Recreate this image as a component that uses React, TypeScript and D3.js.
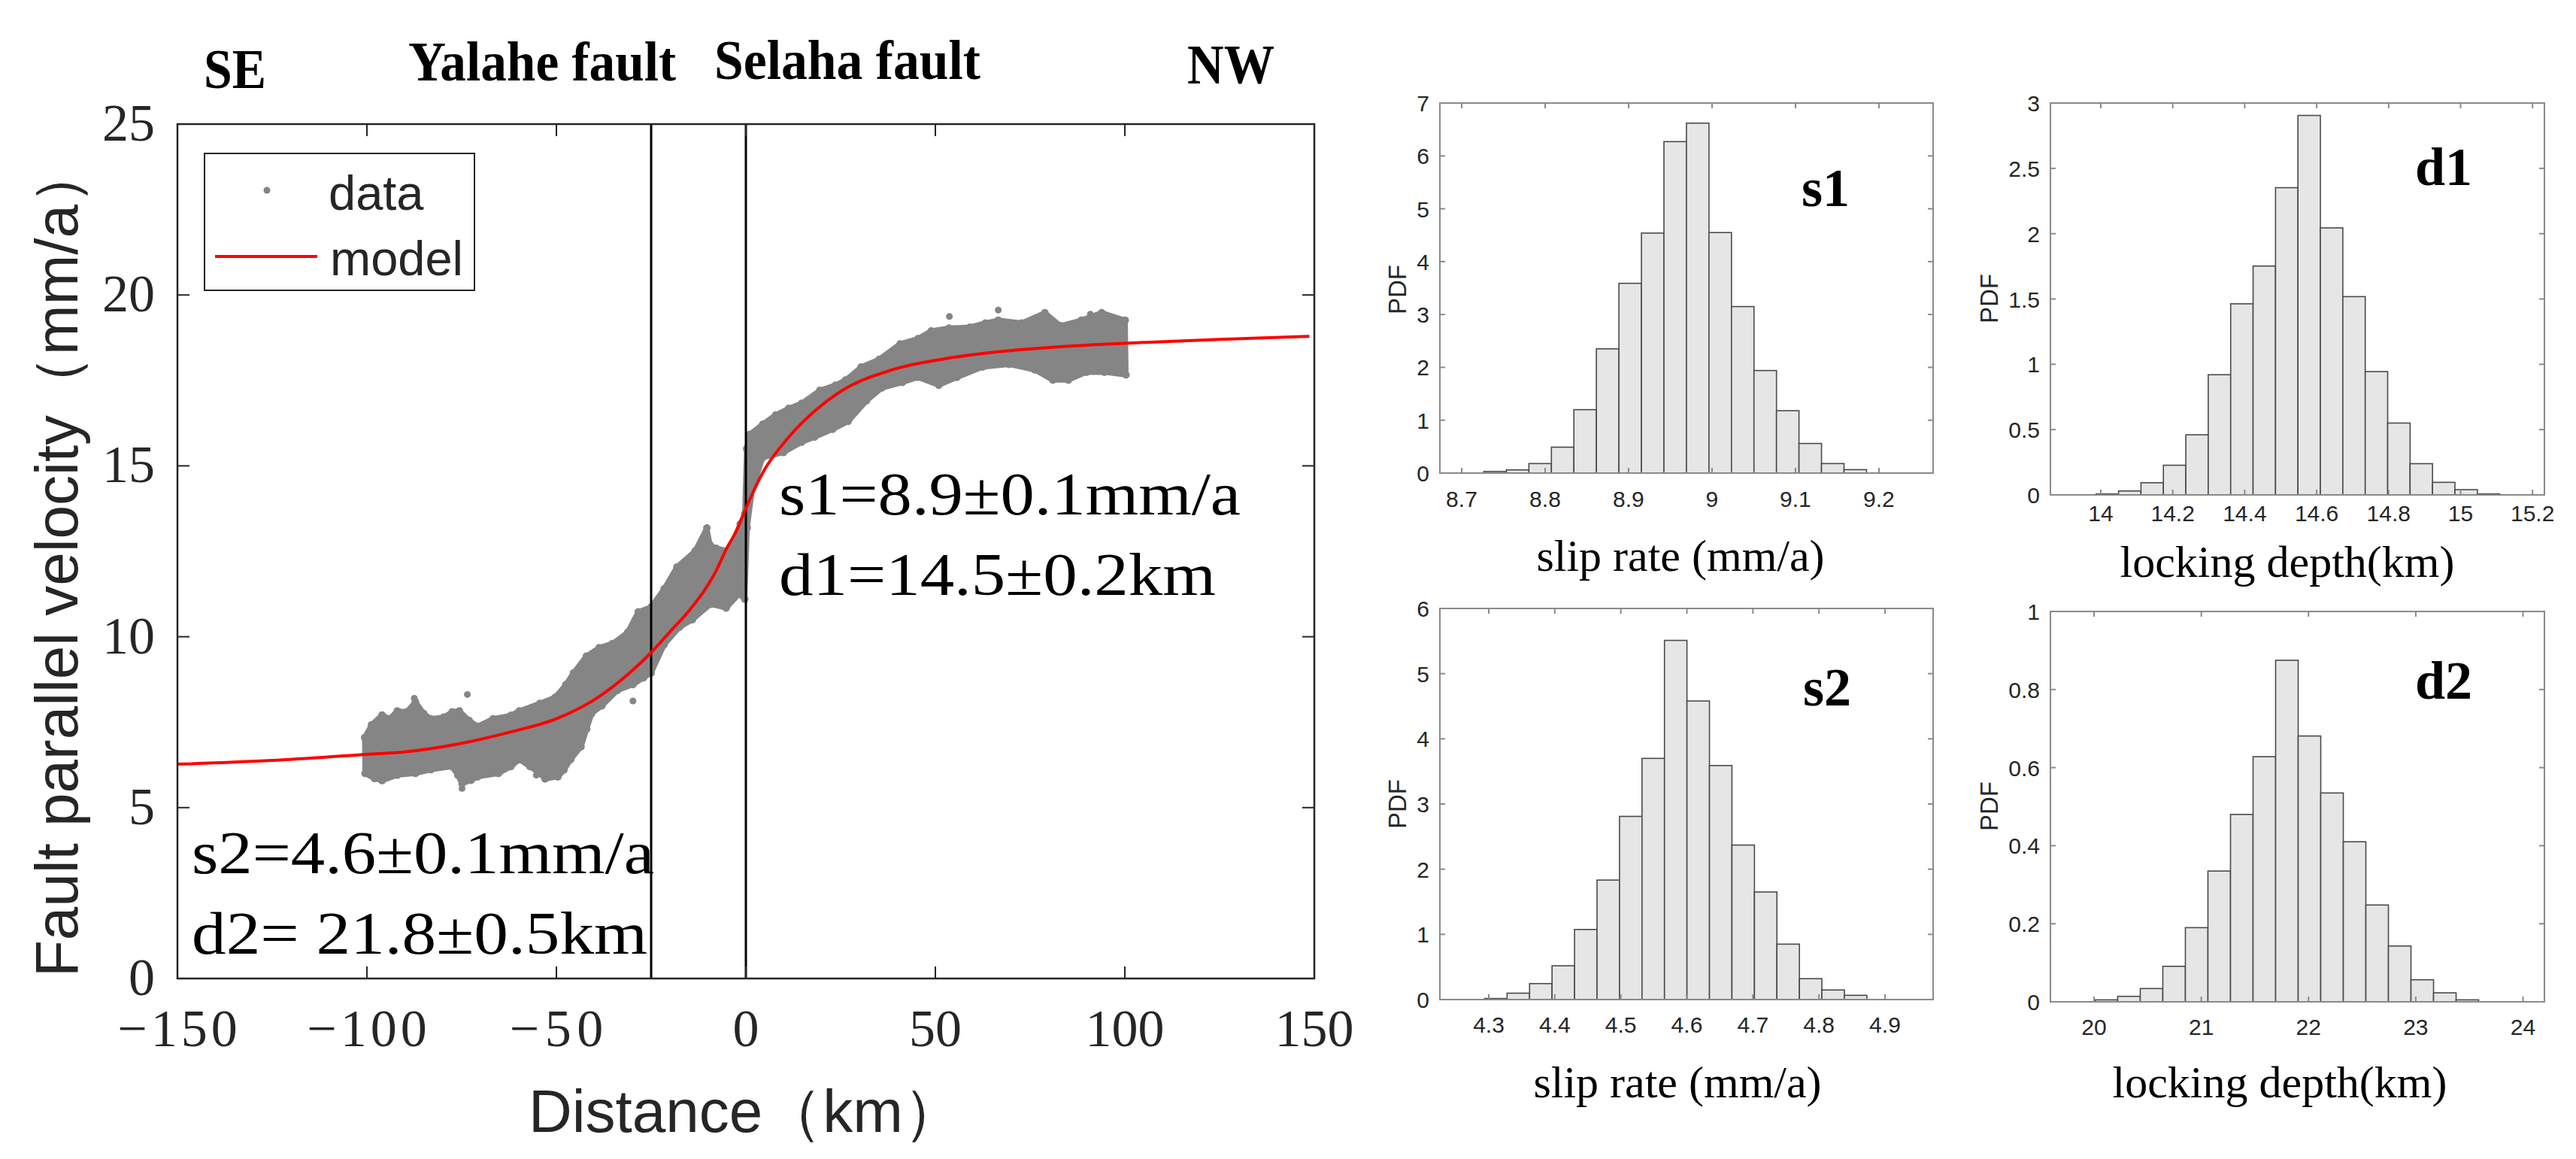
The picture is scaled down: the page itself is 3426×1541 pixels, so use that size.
import React from 'react';
import * as d3 from 'd3';

const W = 3426;
const H = 1541;

// ---------- main profile chart data ----------
const xTicksMain = [-150, -100, -50, 0, 50, 100, 150];
const yTicksMain = [0, 5, 10, 15, 20, 25];
const faultX = [-25, 0];

const modelX = [-150, -125, -100, -90, -76, -62.6, -50, -38.7, -28.4, -25, -20, -14.7, -7.9, -5, -2.4, 0, 4.4, 11.3, 18.1, 24.9, 38.6, 52.3, 65.9, 79.6, 93.3, 104.8, 125, 148.7];
const modelV = [6.27, 6.38, 6.56, 6.63, 6.86, 7.2, 7.6, 8.25, 9.17, 9.54, 10.15, 10.8, 11.92, 12.6, 13.12, 13.76, 14.79, 15.84, 16.6, 17.17, 17.81, 18.13, 18.33, 18.46, 18.55, 18.61, 18.7, 18.79];

const bandUpperX = [-100.6, -98.8, -96.0, -94, -92.0, -89.5, -87.2, -85, -83.1, -79.7, -77.5, -75.6, -73, -70.8, -66.7, -62, -59.8, -54.4, -50.3, -47.5, -45.5, -42.1, -38.7, -35.2, -31.2, -28.4, -25.0, -21.6, -18.2, -13.4, -10.3, -9.5, -7.9, -4.5, -1.5, -0.3, 0.2, 1.03, 4.45, 7.87, 11.28, 14.7, 19.5, 23.6, 26.3, 30.4, 35.2, 40.7, 45.4, 48.9, 53.6, 59.1, 63.2, 66.6, 72.8, 78.9, 83.0, 88.5, 93.9, 100.1];
const bandUpperV = [7.05, 7.42, 7.71, 7.6, 7.83, 7.8, 8.1, 7.75, 7.6, 7.65, 7.8, 7.83, 7.55, 7.38, 7.6, 7.7, 7.83, 8.05, 8.23, 8.6, 8.94, 9.43, 9.68, 9.8, 10.13, 10.73, 10.87, 11.4, 12.04, 12.51, 13.18, 12.7, 12.59, 12.51, 13.3, 13.6, 15.5, 15.92, 16.22, 16.49, 16.68, 16.83, 17.21, 17.36, 17.51, 17.89, 18.12, 18.57, 18.72, 18.95, 19.03, 19.06, 19.18, 19.26, 19.18, 19.48, 19.1, 19.26, 19.48, 19.26];

const bandLowerX = [-100.5, -98, -96.0, -92, -87.2, -83.1, -77.6, -76, -74.9, -72.5, -70.8, -65.3, -62, -59.8, -57, -54.4, -53.0, -49.6, -48, -46.2, -43.5, -42, -40.7, -38.0, -33.9, -29.8, -27, -25.0, -21.6, -17.5, -14.1, -9.3, -5.2, -1.8, -0.3, 0.35, 1.72, 4.45, 9.92, 14.7, 18.1, 22.9, 27.0, 31.8, 35.9, 41.3, 45.4, 50.9, 55.7, 62.5, 69.4, 76.2, 81.0, 85.1, 89.9, 94.6, 100.3];
const bandLowerV = [6.0, 5.85, 5.79, 5.95, 6.0, 6.11, 6.2, 5.95, 5.7, 5.8, 5.9, 6.0, 6.2, 6.41, 6.2, 6.0, 5.84, 5.9, 6.1, 6.41, 6.78, 7.3, 7.75, 7.98, 8.43, 8.6, 8.8, 8.94, 9.76, 10.28, 10.5, 10.95, 10.84, 11.25, 11.1, 13.19, 14.33, 15.24, 15.39, 15.69, 15.84, 16.07, 16.3, 16.9, 17.28, 17.44, 17.59, 17.36, 17.59, 17.89, 17.97, 17.81, 17.51, 17.51, 17.74, 17.74, 17.66];

const outlierX = [-73.5, -87.5, -29.8, -74.9, -50.6, -55.3, -43.8, 53.7, 66.6, 90.9];
const outlierV = [8.31, 8.2, 8.12, 5.56, 6.19, 5.95, 6.82, 19.37, 19.56, 19.44];

// ---------- histogram data ----------
const s1XTicks = [8.7, 8.8, 8.9, 9, 9.1, 9.2];
const s1YTicks = [0, 1, 2, 3, 4, 5, 6, 7];
const s1BinStart = 8.7266;
const s1BinWidth = 0.02697;
const s1Pdf = [0.03, 0.06, 0.18, 0.49, 1.2, 2.35, 3.59, 4.54, 6.27, 6.62, 4.55, 3.15, 1.94, 1.18, 0.56, 0.18, 0.065];

const d1XTicks = [14, 14.2, 14.4, 14.6, 14.8, 15, 15.2];
const d1YTicks = [0, 0.5, 1, 1.5, 2, 2.5, 3];
const d1BinStart = 13.987;
const d1BinWidth = 0.06233;
const d1Pdf = [0.007, 0.03, 0.093, 0.227, 0.46, 0.92, 1.463, 1.752, 2.352, 2.905, 2.044, 1.518, 0.944, 0.55, 0.239, 0.096, 0.04, 0.007];

const s2XTicks = [4.3, 4.4, 4.5, 4.6, 4.7, 4.8, 4.9];
const s2YTicks = [0, 1, 2, 3, 4, 5, 6];
const s2BinStart = 4.2937;
const s2BinWidth = 0.03405;
const s2Pdf = [0.016, 0.098, 0.245, 0.518, 1.075, 1.833, 2.81, 3.7, 5.51, 4.58, 3.59, 2.37, 1.65, 0.85, 0.32, 0.147, 0.065];

const d2XTicks = [20, 21, 22, 23, 24];
const d2YTicks = [0, 0.2, 0.4, 0.6, 0.8, 1];
const d2BinStart = 20.01;
const d2BinWidth = 0.2104;
const d2Pdf = [0.005, 0.014, 0.034, 0.091, 0.19, 0.335, 0.48, 0.628, 0.875, 0.681, 0.535, 0.41, 0.248, 0.143, 0.0565, 0.023, 0.005];

const SERIF = '"Liberation Serif", "Times New Roman", serif';
const SANS = '"Liberation Sans", Arial, sans-serif';
const AX = '#262626';
const DATA_GRAY = '#858585';

const fmt = (t: number) => String(+t.toFixed(2));

type HistProps = {
  left: number; right: number; top: number; bottom: number;
  xDomain: [number, number]; yDomain: [number, number];
  xTicks: number[]; yTicks: number[];
  binStart: number; binWidth: number; pdf: number[];
  xTickBase: number; pdfPos: [number, number];
  label: string; labelPos: [number, number];
  xLabel: string; xLabelPos: [number, number];
};

function Hist(p: HistProps) {
  const xs = d3.scaleLinear().domain(p.xDomain).range([p.left, p.right]);
  const ys = d3.scaleLinear().domain(p.yDomain).range([p.bottom, p.top]);
  const tl = 7;
  const boxColor = '#8a8a8a';
  return (
    <g>
      {p.pdf.map((v, i) => {
        const x0 = xs(p.binStart + i * p.binWidth);
        const x1 = xs(p.binStart + (i + 1) * p.binWidth);
        return (
          <rect key={i} x={x0} y={ys(v)} width={x1 - x0} height={ys(0) - ys(v)}
            fill="#e6e6e6" stroke="#4a4a4a" strokeWidth={1.6} />
        );
      })}
      <rect x={p.left} y={p.top} width={p.right - p.left} height={p.bottom - p.top}
        fill="none" stroke={boxColor} strokeWidth={2} />
      {p.xTicks.map((t) => (
        <g key={'x' + t}>
          <line x1={xs(t)} x2={xs(t)} y1={p.bottom} y2={p.bottom - tl} stroke={boxColor} strokeWidth={2} />
          <line x1={xs(t)} x2={xs(t)} y1={p.top} y2={p.top + tl} stroke={boxColor} strokeWidth={2} />
          <text x={xs(t)} y={p.xTickBase} textAnchor="middle" fontFamily={SANS} fontSize={30} fill={AX}>{fmt(t)}</text>
        </g>
      ))}
      {p.yTicks.map((t) => (
        <g key={'y' + t}>
          <line x1={p.left} x2={p.left + tl} y1={ys(t)} y2={ys(t)} stroke={boxColor} strokeWidth={2} />
          <line x1={p.right} x2={p.right - tl} y1={ys(t)} y2={ys(t)} stroke={boxColor} strokeWidth={2} />
          <text x={p.left - 14} y={ys(t) + 11} textAnchor="end" fontFamily={SANS} fontSize={30} fill={AX}>{fmt(t)}</text>
        </g>
      ))}
      <text transform={`translate(${p.pdfPos[0]},${p.pdfPos[1]}) rotate(-90)`} textAnchor="middle"
        fontFamily={SANS} fontSize={33} fill={AX}>PDF</text>
      <text x={p.labelPos[0]} y={p.labelPos[1]} fontFamily={SERIF} fontWeight="bold" fontSize={72} fill="#000">{p.label}</text>
      <text x={p.xLabelPos[0]} y={p.xLabelPos[1]} textAnchor="middle" fontFamily={SERIF} fontSize={60} fill="#000">{p.xLabel}</text>
    </g>
  );
}

function MainChart() {
  const left = 236, right = 1748, top = 165, bottom = 1301;
  const xs = d3.scaleLinear().domain([-150, 150]).range([left, right]);
  const ys = d3.scaleLinear().domain([0, 25]).range([bottom, top]);

  const upperPts = bandUpperX.map((x, i) => [x, bandUpperV[i]] as [number, number]);
  const lowerPts = bandLowerX.map((x, i) => [x, bandLowerV[i]] as [number, number]);
  const bandPts: [number, number][] = [...upperPts, ...lowerPts.slice().reverse()];
  const bandPath = d3.line<[number, number]>()
    .x((d) => xs(d[0])).y((d) => ys(d[1]))
    .curve(d3.curveLinearClosed)(bandPts) || '';

  const modelPath = d3.line<number>()
    .x((d) => xs(d)).y((_, i) => ys(modelV[i]))
    .curve(d3.curveMonotoneX)(modelX) || '';

  const tl = 16;
  const tickFont = 70;

  return (
    <g>
      {/* region labels */}
      <text x={271} y={117} fontFamily={SERIF} fontWeight="bold" fontSize={75} textLength={83} lengthAdjust="spacingAndGlyphs">SE</text>
      <text x={543} y={107} fontFamily={SERIF} fontWeight="bold" fontSize={75} textLength={356} lengthAdjust="spacingAndGlyphs">Yalahe fault</text>
      <text x={950} y={105} fontFamily={SERIF} fontWeight="bold" fontSize={75} textLength={354} lengthAdjust="spacingAndGlyphs">Selaha fault</text>
      <text x={1579} y={111} fontFamily={SERIF} fontWeight="bold" fontSize={75} textLength={116} lengthAdjust="spacingAndGlyphs">NW</text>

      {/* data band */}
      <path d={bandPath} fill={DATA_GRAY} stroke={DATA_GRAY} strokeWidth={7} strokeLinejoin="round" />
      {bandPts.map((d, i) => (
        <circle key={'e' + i} cx={xs(d[0])} cy={ys(d[1])} r={5} fill={DATA_GRAY} />
      ))}
      {outlierX.map((x, i) => (
        <circle key={i} cx={xs(x)} cy={ys(outlierV[i])} r={4.5} fill={DATA_GRAY} />
      ))}

      {/* fault lines */}
      {faultX.map((f) => (
        <line key={f} x1={xs(f)} x2={xs(f)} y1={top} y2={bottom} stroke="#000" strokeWidth={3} />
      ))}

      {/* model */}
      <path d={modelPath} fill="none" stroke="#ff0000" strokeWidth={4} />

      {/* axes box */}
      <rect x={left} y={top} width={right - left} height={bottom - top} fill="none" stroke={AX} strokeWidth={2.5} />
      {xTicksMain.map((t) => (
        <g key={'x' + t}>
          <line x1={xs(t)} x2={xs(t)} y1={bottom} y2={bottom - tl} stroke={AX} strokeWidth={2} />
          <line x1={xs(t)} x2={xs(t)} y1={top} y2={top + tl} stroke={AX} strokeWidth={2} />
          <text x={xs(t)} y={1391} textAnchor="middle" fontFamily={SERIF} fontSize={tickFont} fill={AX}
            {...(t < 0 ? { textLength: (String(Math.abs(t)).length * 0.5 + 0.778) * tickFont, lengthAdjust: 'spacing' } : {})}>
            {t < 0 ? '\u2212' + Math.abs(t) : String(t)}
          </text>
        </g>
      ))}
      {yTicksMain.map((t) => (
        <g key={'y' + t}>
          <line x1={left} x2={left + tl} y1={ys(t)} y2={ys(t)} stroke={AX} strokeWidth={2} />
          <line x1={right} x2={right - tl} y1={ys(t)} y2={ys(t)} stroke={AX} strokeWidth={2} />
          <text x={206} y={ys(t) + 22} textAnchor="end" fontFamily={SERIF} fontSize={tickFont} fill={AX}>{t}</text>
        </g>
      ))}

      {/* axis labels */}
      <text x={703} y={1505} fontFamily={SANS} fontSize={80} fill={AX}>Distance（km）</text>
      <text transform="translate(103,1299) rotate(-90)" fontFamily={SANS} fontSize={80} fill={AX}>Fault parallel velocity（mm/a）</text>

      {/* legend */}
      <rect x={272} y={204} width={359} height={182} fill="#fff" stroke={AX} strokeWidth={2} />
      <circle cx={355} cy={253} r={4.5} fill={DATA_GRAY} />
      <text x={437} y={279} fontFamily={SANS} fontSize={65} fill={AX}>data</text>
      <line x1={286} x2={422} y1={341} y2={341} stroke="#ff0000" strokeWidth={4} />
      <text x={439} y={366} fontFamily={SANS} fontSize={65} fill={AX}>model</text>

      {/* annotations */}
      <text x={1036} y={684} fontFamily={SERIF} fontSize={80} fill="#000" textLength={614} lengthAdjust="spacingAndGlyphs">s1=8.9±0.1mm/a</text>
      <text x={1036} y={791} fontFamily={SERIF} fontSize={80} fill="#000" textLength={581} lengthAdjust="spacingAndGlyphs">d1=14.5±0.2km</text>
      <text x={255} y={1161} fontFamily={SERIF} fontSize={80} fill="#000" textLength={615} lengthAdjust="spacingAndGlyphs">s2=4.6±0.1mm/a</text>
      <text x={255} y={1268} fontFamily={SERIF} fontSize={80} fill="#000" textLength={606} lengthAdjust="spacingAndGlyphs">d2= 21.8±0.5km</text>
    </g>
  );
}

export default function App() {
  return (
    <svg width={W} height={H} viewBox={`0 0 ${W} ${H}`}
      style={{ position: 'absolute', left: 0, top: 0, background: '#fff' }}>
      <rect x={0} y={0} width={W} height={H} fill="#fff" />
      <MainChart />
      <Hist left={1915} right={2571} top={137} bottom={629}
        xDomain={[8.6739, 9.2649]} yDomain={[0, 7]} xTicks={s1XTicks} yTicks={s1YTicks}
        binStart={s1BinStart} binWidth={s1BinWidth} pdf={s1Pdf}
        xTickBase={674} pdfPos={[1870, 385]} label="s1" labelPos={[2396, 274]}
        xLabel="slip rate (mm/a)" xLabelPos={[2235, 759]} />
      <Hist left={2727} right={3384} top={137} bottom={658}
        xDomain={[13.86, 15.233]} yDomain={[0, 3]} xTicks={d1XTicks} yTicks={d1YTicks}
        binStart={d1BinStart} binWidth={d1BinWidth} pdf={d1Pdf}
        xTickBase={693} pdfPos={[2657, 397]} label="d1" labelPos={[3212, 246]}
        xLabel="locking depth(km)" xLabelPos={[3042, 767]} />
      <Hist left={1915} right={2571} top={809} bottom={1329}
        xDomain={[4.226, 4.9729]} yDomain={[0, 6]} xTicks={s2XTicks} yTicks={s2YTicks}
        binStart={s2BinStart} binWidth={s2BinWidth} pdf={s2Pdf}
        xTickBase={1373} pdfPos={[1870, 1069]} label="s2" labelPos={[2398, 938]}
        xLabel="slip rate (mm/a)" xLabelPos={[2231, 1459]} />
      <Hist left={2727} right={3384} top={813} bottom={1332}
        xDomain={[19.593, 24.2]} yDomain={[0, 1]} xTicks={d2XTicks} yTicks={d2YTicks}
        binStart={d2BinStart} binWidth={d2BinWidth} pdf={d2Pdf}
        xTickBase={1376} pdfPos={[2657, 1072]} label="d2" labelPos={[3212, 929]}
        xLabel="locking depth(km)" xLabelPos={[3032, 1459]} />
    </svg>
  );
}
